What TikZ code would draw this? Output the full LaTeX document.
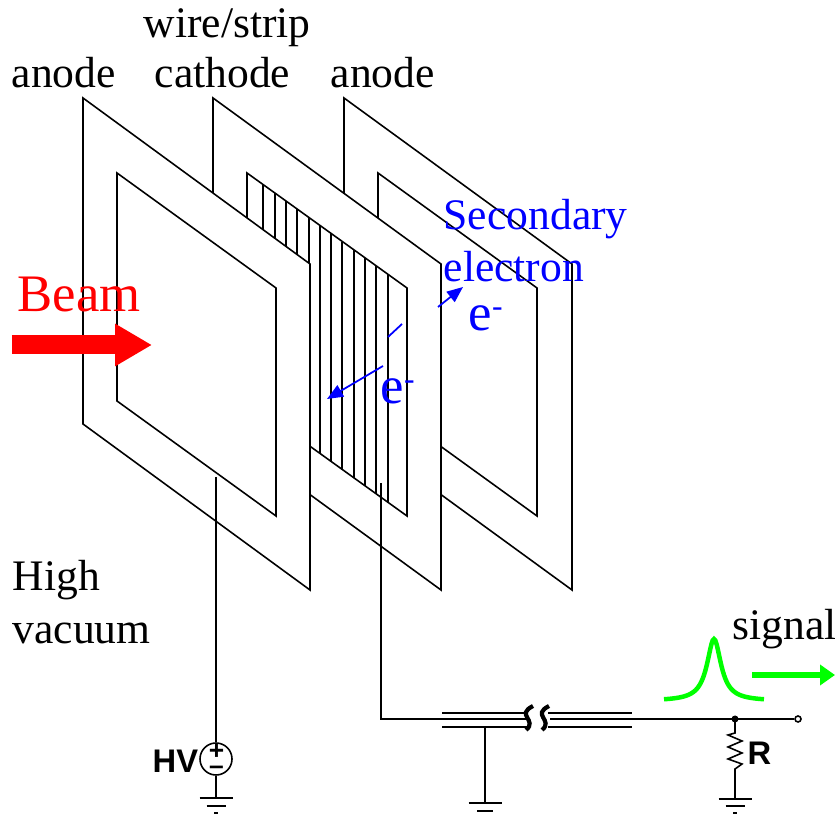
\documentclass[tikz,border=0pt]{standalone}
\usepackage{fontspec}
\setmainfont{Liberation Serif}
\setsansfont{Liberation Sans}
\usetikzlibrary{arrows.meta}
\definecolor{beamred}{rgb}{1,0,0}
\definecolor{sigreen}{rgb}{0,1,0}
\newcommand{\emin}{e\raisebox{4pt}{\fontsize{9}{9}\selectfont -}}
\tikzset{
  thinline/.style={line width=0.45pt},
  frame/.style={thinline,fill=white},
  wirel/.style={thinline},
  lab/.style={anchor=base west,inner sep=0pt,font=\fontsize{12.4}{14}\selectfont},
  bluelab/.style={lab,text=blue},
  bigblue/.style={anchor=base west,inner sep=0pt,text=blue,font=\fontsize{15}{18}\selectfont},
  sanslab/.style={anchor=base west,inner sep=0pt,font=\sffamily\bfseries\fontsize{9.3}{11}\selectfont},
  bluearrow/.style={blue,line width=0.5pt,-{Triangle[length=0.16cm,width=0.13cm]}},
  gnd/.style={thinline},
}
\begin{document}
\begin{tikzpicture}
  \useasboundingbox (0,0) rectangle (8.35,8.15);

  %------ back anode
  \draw[frame] (3.44,7.17) -- (5.72,5.51) -- (5.72,2.25) -- (3.44,3.91) -- cycle;
  \draw[frame] (3.78,6.42) -- (5.37,5.27) -- (5.37,2.99) -- (3.78,4.14) -- cycle;

  %------ wire/strip cathode
  \draw[frame] (2.13,7.17) -- (4.41,5.51) -- (4.41,2.25) -- (2.13,3.91) -- cycle;
  \draw[frame] (2.47,6.42) -- (4.07,5.27) -- (4.07,2.99) -- (2.47,4.14) -- cycle;

  \draw[wirel] (2.63,6.30) -- ++ (0,-2.28);
  \draw[wirel] (2.75,6.22) -- ++ (0,-2.28);
  \draw[wirel] (2.86,6.14) -- ++ (0,-2.28);
  \draw[wirel] (2.97,6.06) -- ++ (0,-2.28);
  \draw[wirel] (3.09,5.97) -- ++ (0,-2.28);
  \draw[wirel] (3.20,5.89) -- ++ (0,-2.28);
  \draw[wirel] (3.31,5.81) -- ++ (0,-2.28);
  \draw[wirel] (3.42,5.73) -- ++ (0,-2.28);
  \draw[wirel] (3.54,5.65) -- ++ (0,-2.28);
  \draw[wirel] (3.65,5.57) -- ++ (0,-2.28);
  \draw[wirel] (3.76,5.49) -- ++ (0,-2.28);
  \draw[wirel] (3.88,5.40) -- ++ (0,-2.28);

  %------ front anode
  \draw[frame] (0.83,7.17) -- (3.10,5.51) -- (3.10,2.25) -- (0.83,3.91) -- cycle;
  \draw[frame] (1.17,6.42) -- (2.76,5.27) -- (2.76,2.99) -- (1.17,4.14) -- cycle;

  %------ labels
  \node[lab] (wirestrip) at (1.43,7.77) {wire/strip};
  \node[lab] (anodeleft) at (0.11,7.27) {anode};
  \node[lab] (cathode) at (1.54,7.27) {cathode};
  \node[lab] (anoderight) at (3.30,7.27) {anode};
  \node[lab] (high) at (0.12,2.24) {High};
  \node[lab] (vacuum) at (0.12,1.71) {vacuum};
  \node[lab] (signal) at (7.32,1.75) {signal};

  \node[anchor=base west,inner sep=0pt,text=beamred,font=\fontsize{15}{18}\selectfont] (beam) at (0.17,5.03) {Beam};
  \draw[beamred,line width=0.19cm,-{Triangle[length=0.37cm,width=0.4cm]}] (0.12,4.70) -- (1.52,4.70);

  %------ electrons
  \node[bluelab] (secondary) at (4.43,5.85) {Secondary};
  \node[bluelab] (electron) at (4.43,5.33) {electron};
  \node[bigblue] (efront) at (4.68,4.84) {\emin};
  \node[bigblue] (eback) at (3.80,4.11) {\emin};

  \draw[bluearrow] (4.38,5.08) -- (4.63,5.28);
  \draw[bluearrow] (3.83,4.49) -- (3.27,4.16);
  \draw[blue,line width=0.5pt] (3.88,4.78) -- (4.02,4.91);

  %------ HV
  \node[circle,draw,thinline,minimum size=0.32cm,inner sep=0pt] (hv) at (2.16,0.56) {};
  \node[inner sep=0pt,align=center,font=\sffamily\bfseries\fontsize{7.5}{4.3}\selectfont] (hvsign) at (2.165,0.56) {+\\--};
  \node[sanslab] (hvlab) at (1.52,0.42) {HV};

  \coordinate (hvtop) at (2.16,3.38);
  \coordinate (gndhv) at (2.16,0.17);
  \draw[thinline] (hvtop) -- (hv.north);
  \draw[thinline] (hv.south) -- (gndhv);
  \draw[gnd] (gndhv) ++ (-0.165,0) -- ++ (0.33,0);
  \draw[gnd] (gndhv) ++ (-0.095,-0.08) -- ++ (0.19,0);
  \draw[gnd] (gndhv) ++ (-0.02,-0.15) -- ++ (0.04,0);

  %------ signal line
  \coordinate (cathout) at (3.81,3.32);
  \coordinate (cathbend) at (3.81,0.96);
  \coordinate (breakl) at (5.27,0.96);
  \coordinate (breakr) at (5.50,0.96);
  \coordinate (junction) at (7.35,0.96);
  \node[circle,draw,thinline,fill=white,minimum size=0.06cm,inner sep=0pt] (term) at (7.98,0.96) {};
  \draw[thinline] (cathout) -- (cathbend) -- (breakl);
  \draw[thinline] (breakr) -- (junction) -- (term);
  \fill (junction) circle (0.035);

  % shield
  \draw[thinline] (4.42,1.02) -- ++ (0.85,0);
  \draw[thinline] (4.42,0.88) -- ++ (0.85,0);
  \draw[thinline] (5.48,1.02) -- ++ (0.84,0);
  \draw[thinline] (5.48,0.88) -- ++ (0.84,0);
  \draw[line width=0.042cm] (5.33,1.09) .. controls (5.15,1.00) and (5.38,0.95) .. (5.26,0.85);
  \draw[line width=0.042cm] (5.49,1.09) .. controls (5.31,1.00) and (5.54,0.95) .. (5.42,0.85);

  \coordinate (coaxtap) at (4.85,0.88);
  \coordinate (gndcoax) at (4.85,0.12);
  \draw[thinline] (coaxtap) -- (gndcoax);
  \draw[gnd] (gndcoax) ++ (-0.165,0) -- ++ (0.33,0);
  \draw[gnd] (gndcoax) ++ (-0.08,-0.08) -- ++ (0.16,0);

  %------ R
  \coordinate (gndr) at (7.35,0.16);
  \draw[thinline] (junction) -- (7.35,0.82) -- ++ (-0.07,-0.02) -- ++ (0.14,-0.06) -- ++ (-0.14,-0.06)
     -- ++ (0.14,-0.06) -- ++ (-0.14,-0.06) -- ++ (0.14,-0.05) -- ++ (-0.07,-0.05) -- (gndr);
  \draw[gnd] (gndr) ++ (-0.165,0) -- ++ (0.33,0);
  \draw[gnd] (gndr) ++ (-0.095,-0.07) -- ++ (0.19,0);
  \draw[gnd] (gndr) ++ (-0.02,-0.14) -- ++ (0.04,0);
  \node[sanslab] (rlab) at (7.47,0.50) {R};

  %------ pulse
  \draw[sigreen,line width=0.045cm] plot[domain=-0.5:0.5,samples=81] (\x+7.14,{1.14+0.62/(1+(\x/0.085)*(\x/0.085))});
  \draw[sigreen,line width=0.06cm,-{Triangle[length=0.15cm,width=0.2cm]}] (7.52,1.40) -- (8.35,1.40);
\end{tikzpicture}
\end{document}
